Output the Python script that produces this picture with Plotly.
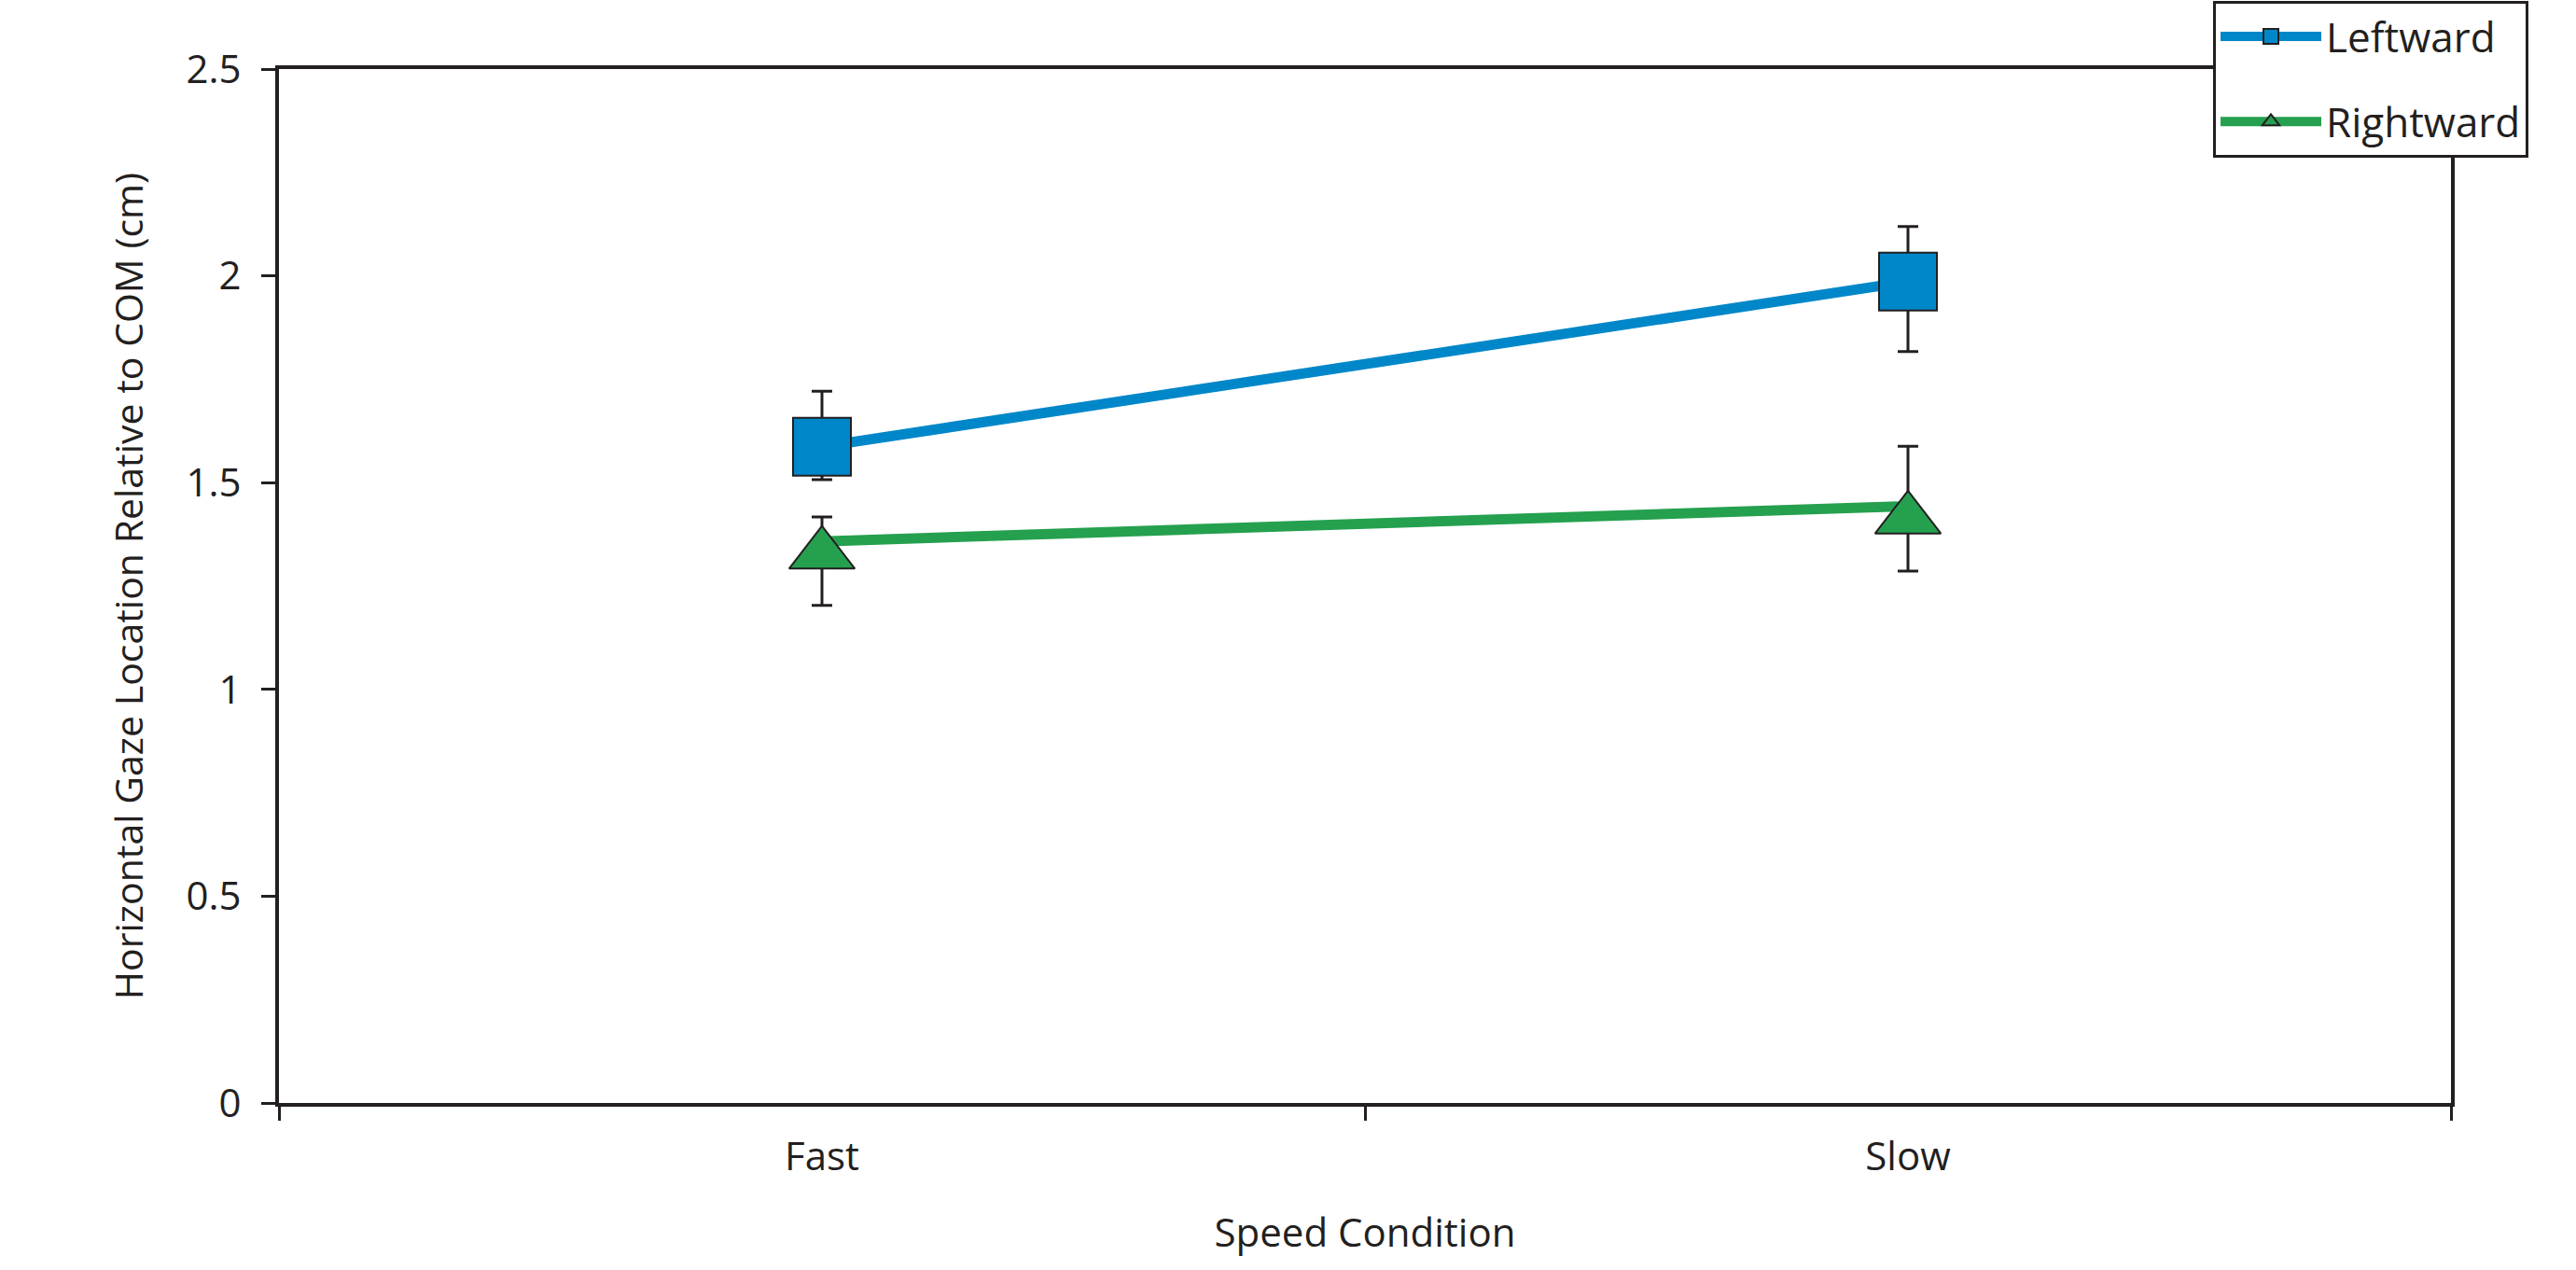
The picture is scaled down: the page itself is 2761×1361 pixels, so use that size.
import plotly.graph_objects as go

# Mean horizontal gaze location (cm) by speed condition, with error bar extents
conditions = ["Fast", "Slow"]
leftward_mean = [1.587, 1.986]
leftward_err_up = [0.134, 0.133]
leftward_err_down = [0.080, 0.169]
rightward_mean = [1.358, 1.443]
rightward_err_up = [0.059, 0.145]
rightward_err_down = [0.155, 0.157]

y_ticks = [0, 0.5, 1, 1.5, 2, 2.5]
y_tick_text = ["0", "0.5", "1", "1.5", "2", "2.5"]

BLUE = "#0087c9"
GREEN = "#25a04f"
INK = "#231f20"
FONT = "Open Sans"

W, H = 2761, 1361
M_L, M_R, M_T, M_B = 299, 134, 74, 179
plot_h = H - M_T - M_B

# plotly's triangle sits above its anchor point; a shadow axis shifts it so the
# triangle is centred on the value
tri_size = 61
tri_shift = (tri_size / 2) * (2 ** 0.5 - 0.5) / 2 / plot_h * 2.5

fig = go.Figure()

err_style = dict(type="data", symmetric=False, color=INK, thickness=3, width=11)

fig.add_trace(go.Scatter(
    x=conditions, y=leftward_mean, mode="lines",
    line=dict(color=BLUE, width=11), showlegend=False,
    error_y=dict(array=leftward_err_up, arrayminus=leftward_err_down, **err_style),
))
fig.add_trace(go.Scatter(
    x=conditions, y=rightward_mean, mode="lines",
    line=dict(color=GREEN, width=11), showlegend=False,
    error_y=dict(array=rightward_err_up, arrayminus=rightward_err_down, **err_style),
))
fig.add_trace(go.Scatter(
    x=conditions, y=leftward_mean, mode="markers", showlegend=False,
    marker=dict(symbol="square", size=62, color=BLUE, line=dict(color=INK, width=2)),
))
fig.add_trace(go.Scatter(
    x=conditions, y=rightward_mean, mode="markers", showlegend=False, yaxis="y2",
    marker=dict(symbol="triangle-up", size=tri_size, color=GREEN, line=dict(color=INK, width=2)),
))

# legend entries
fig.add_trace(go.Scatter(
    x=[None], y=[None], mode="lines+markers", name="Leftward", legendgroup="l",
    line=dict(color=BLUE, width=11),
    marker=dict(symbol="square", size=30, color=BLUE, line=dict(color=INK, width=2)),
))
fig.add_trace(go.Scatter(
    x=[None], y=[None], mode="lines+markers", name="Rightward", legendgroup="r",
    line=dict(color=GREEN, width=11),
    marker=dict(symbol="triangle-up", size=30, color=GREEN, line=dict(color=INK, width=2)),
))

axis_common = dict(
    showline=True, linecolor=INK, linewidth=4, mirror=True,
    ticks="outside", ticklen=15, tickwidth=3, tickcolor=INK,
    showgrid=False, zeroline=False,
    tickfont=dict(family=FONT, size=42, color=INK),
)

fig.update_layout(
    width=W, height=H,
    margin=dict(l=M_L, r=M_R, t=M_T, b=M_B, pad=0, autoexpand=False),
    paper_bgcolor="white", plot_bgcolor="white",
    font=dict(family=FONT, size=42, color=INK),
    xaxis=dict(
        type="category", range=[-0.5, 1.5], tickson="boundaries",
        title=dict(text="Speed Condition", font=dict(family=FONT, size=42, color=INK), standoff=42),
        ticklabelstandoff=18,
        **axis_common,
    ),
    yaxis=dict(
        range=[0, 2.5], tickvals=y_ticks, ticktext=y_tick_text,
        title=dict(text="Horizontal Gaze Location Relative to COM (cm)",
                   font=dict(family=FONT, size=41, color=INK), standoff=34),
        ticklabelstandoff=13,
        **axis_common,
    ),
    yaxis2=dict(
        overlaying="y", range=[tri_shift, 2.5 + tri_shift], visible=False,
    ),
    legend=dict(
        x=(2372 - M_L) / (W - M_L - M_R), y=(H - M_B - 1) / plot_h,
        xanchor="left", yanchor="top",
        bgcolor="white", bordercolor=INK, borderwidth=3,
        font=dict(family=FONT, size=44, color=INK),
        itemwidth=108, tracegroupgap=31,
    ),
    showlegend=True,
)

fig.write_html("out.html")
